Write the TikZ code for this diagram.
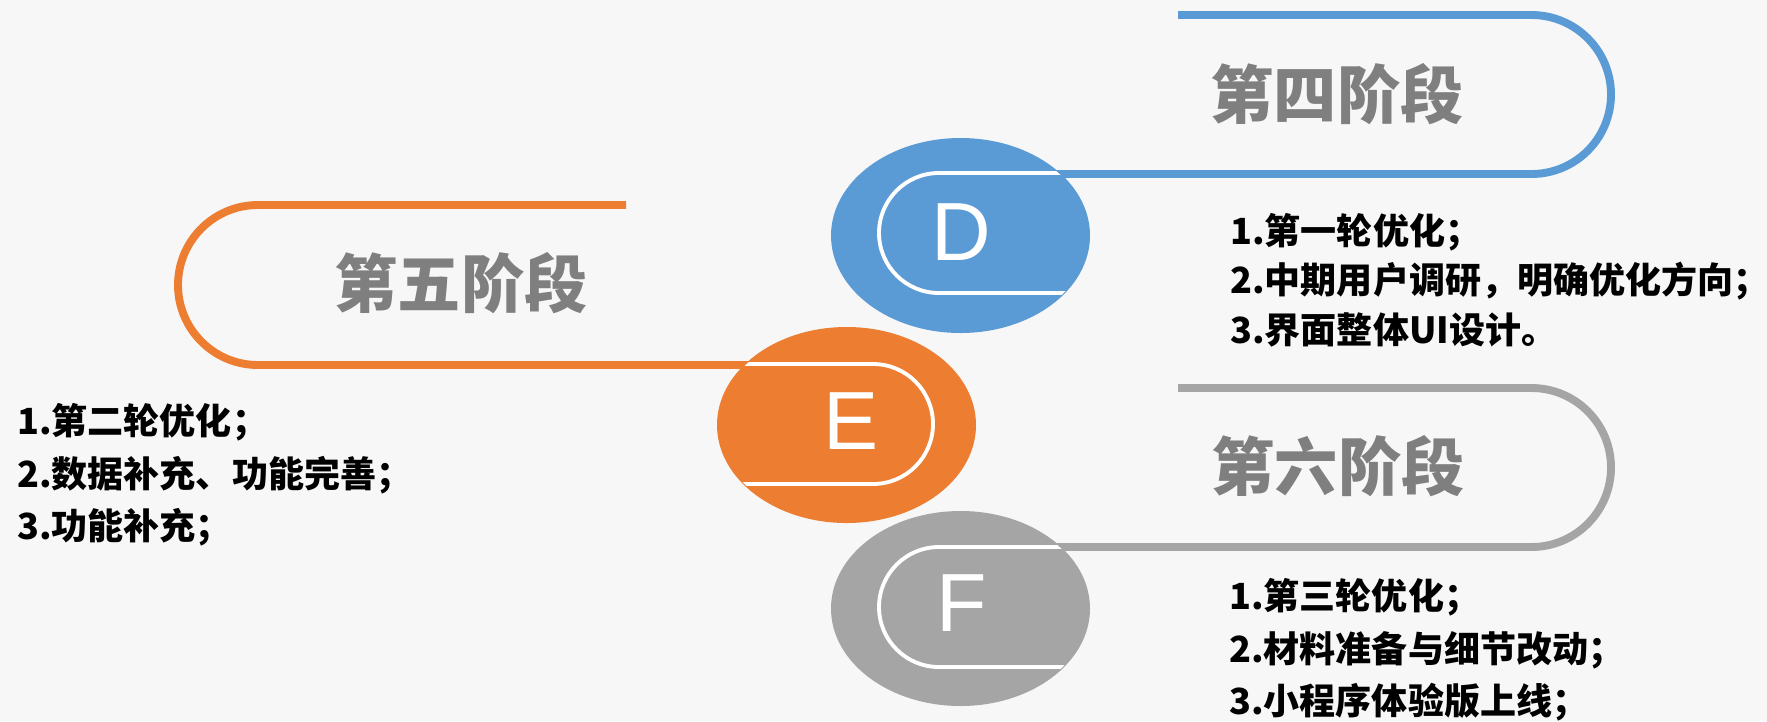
\documentclass[tikz,border=0pt]{standalone}
\usepackage{fontspec}
\setmainfont{Liberation Sans}
\newfontfamily\cjk{Noto Sans CJK SC}
\definecolor{stageblue}{HTML}{5B9BD5}
\definecolor{stageorange}{HTML}{ED7D31}
\definecolor{stagegrey}{HTML}{A5A5A5}
\definecolor{titlegrey}{HTML}{7F7F7F}
\definecolor{paper}{HTML}{F7F7F7}
\tikzset{
  loopline/.style={line width=4.5pt},
  innerline/.style={white, line width=2.2pt},
  stagetitle/.style={font=\cjk\bfseries\fontsize{36pt}{40pt}\selectfont, text=titlegrey, inner sep=0pt},
  stageletter/.style={font=\fontsize{47pt}{50pt}\selectfont, text=white, inner sep=0pt},
  tasklist/.style={font=\cjk\bfseries\fontsize{20.5pt}{#1}\selectfont, align=left, anchor=west, inner sep=0pt},
}
\begin{document}
\begin{tikzpicture}[x=0.02cm, y=-0.02cm, line join=round]
    \def\rx{129.5}
    \def\ry{97.5}
    \fill[paper] (0,0) rectangle (1767,721);
    \useasboundingbox (0,0) rectangle (1767,721);
    \coordinate (cD) at (960.5,235.5);
    \coordinate (cE) at (846.5,425);
    \coordinate (cF) at (960.5,608.5);
    % stage D
    \draw[loopline, stageblue] (1178,15) -- (1531.5,15) arc[start angle=-90, end angle=90, radius=79.5] -- (960,174);
    \fill[stageblue] (cD) ellipse[x radius=\rx, y radius=\ry];
    \begin{scope}
        \clip (cD) ellipse[x radius=\rx-1, y radius=\ry-1];
        \draw[innerline] (1100,173) -- (939,173) arc[start angle=-90, end angle=-270, radius=60] -- (1100,293);
    \end{scope}
    % stage E
    \draw[loopline, stageorange] (626,205) -- (258,205) arc[start angle=270, end angle=90, radius=80] -- (846,365);
    \fill[stageorange] (cE) ellipse[x radius=\rx, y radius=98];
    \begin{scope}
        \clip (cE) ellipse[x radius=\rx-1, y radius=97];
        \draw[innerline] (700,364) -- (873,364) arc[start angle=-90, end angle=90, radius=60] -- (700,484);
    \end{scope}
    % stage F
    \draw[loopline, stagegrey] (1178,388) -- (1531.5,388) arc[start angle=-90, end angle=90, radius=79.5] -- (960,547);
    \fill[stagegrey] (cF) ellipse[x radius=\rx, y radius=\ry];
    \begin{scope}
        \clip (cF) ellipse[x radius=\rx-1, y radius=\ry-1];
        \draw[innerline] (1100,547) -- (939,547) arc[start angle=-90, end angle=-270, radius=60] -- (1100,667);
    \end{scope}
    \node[stageletter] (D) at (961,232) {D};
    \node[stageletter] (E) at (851.5,421.5) {E};
    \node[stageletter] (F) at (962,603) {F};
    \node[stagetitle] (t4) at (1337,94) {第四阶段};
    \node[stagetitle] (t5) at (461,283) {第五阶段};
    \node[stagetitle] (t6) at (1338,466) {第六阶段};
    \node[tasklist=28.3pt] (l4) at (1230,280) {1.第一轮优化；\\2.中期用户调研，明确优化方向；\\3.界面整体UI设计。};
    \node[tasklist=30pt] (l5) at (17,475) {1.第二轮优化；\\2.数据补充、功能完善；\\3.功能补充；};
    \node[tasklist=29.8pt] (l6) at (1229,650) {1.第三轮优化；\\2.材料准备与细节改动；\\3.小程序体验版上线；};
\end{tikzpicture}
\end{document}
